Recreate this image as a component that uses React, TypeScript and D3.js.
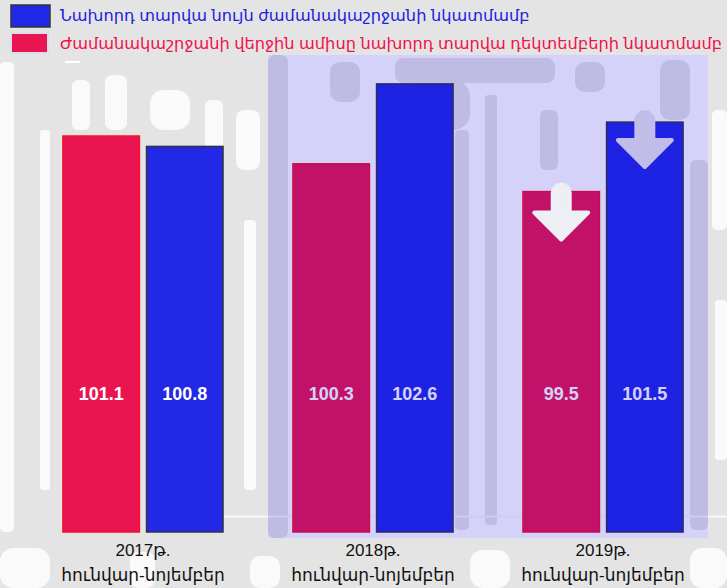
import React from 'react';
import * as d3 from 'd3';

const periods = ['2017թ.', '2018թ.', '2019թ.'];
const periodSub = ['հունվար-նոյեմբեր', 'հունվար-նոյեմբեր', 'հունվար-նոյեմբեր'];
const seriesNames = [
  'Ժամանակաշրջանի վերջին ամիսը նախորդ տարվա դեկտեմբերի նկատմամբ',
  'Նախորդ տարվա նույն ժամանակաշրջանի նկատմամբ',
];
const decValues = [101.1, 100.3, 99.5];
const yoyValues = [100.8, 102.6, 101.5];
// bars that get a "down" arrow (2019 both series)
const downArrows = [false, false, true];

const W = 727;
const H = 588;
const FONT = '"Liberation Sans", Arial, "DejaVu Sans", sans-serif';

const RED = '#ea1450';
const BLUE = '#2229e6';
const GRAY = '#e4e4e4';

// rough strokes for the faded background texture (white on gray outside the highlight)
const outerStrokes: [number, number, number, number][] = [
  [0, 62, 14, 470], [40, 130, 10, 360], [72, 80, 18, 50], [105, 75, 22, 55],
  [150, 90, 40, 40], [205, 100, 18, 80], [236, 110, 24, 60], [244, 220, 12, 270],
  [712, 110, 15, 120], [715, 300, 12, 160], [0, 548, 50, 40], [130, 552, 25, 36],
  [250, 556, 30, 32], [470, 550, 40, 38], [690, 548, 37, 40],
];
// gray strokes on white inside the highlighted area
const innerStrokes: [number, number, number, number][] = [
  [268, 55, 20, 483], [330, 62, 30, 40], [395, 58, 160, 25], [410, 80, 60, 50],
  [455, 130, 14, 400], [485, 95, 12, 430], [540, 110, 18, 60], [575, 62, 30, 30],
  [660, 60, 30, 60], [690, 160, 18, 370], [612, 410, 14, 120],
];

export default function App() {
  const x0 = d3.scaleBand<string>().domain(periods).range([-7, 753]).padding(0.304);
  const x1 = d3.scaleBand<number>().domain([0, 1]).range([0, x0.bandwidth()]).paddingInner(0.085);
  const y = d3.scaleLinear().domain([89.7, 103]).range([532, 70]);

  const bars = periods.flatMap((p, i) => [
    { p, i, s: 0, v: decValues[i] },
    { p, i, s: 1, v: yoyValues[i] },
  ]);

  const arrow = (cx: number, top: number, fill: string, key: string) => {
    const sw = 17, hw = 54, sh = 28, hh = 27;
    const path = d3.path();
    path.moveTo(cx - sw / 2, top + sw / 2);
    path.arc(cx, top + sw / 2, sw / 2, Math.PI, 0);
    path.lineTo(cx + sw / 2, top + sh);
    path.lineTo(cx + hw / 2, top + sh);
    path.lineTo(cx, top + sh + hh);
    path.lineTo(cx - hw / 2, top + sh);
    path.lineTo(cx - sw / 2, top + sh);
    path.closePath();
    return <path key={key} d={path.toString()} fill={fill} stroke={fill} strokeWidth={4} strokeLinejoin="round" />;
  };

  return (
    <svg width={W} height={H} style={{ position: 'absolute', left: 0, top: 0 }} fontFamily={FONT}>
      <rect x={0} y={0} width={W} height={H} fill={GRAY} />
      {outerStrokes.map(([tx, ty, tw, th], k) => (
        <rect key={`o${k}`} x={tx} y={ty} width={tw} height={th} rx={Math.min(tw, th) / 3} fill="#fafafa" />
      ))}
      <rect x={268} y={55} width={440} height={483} fill="#ffffff" />
      {innerStrokes.map(([tx, ty, tw, th], k) => (
        <rect key={`i${k}`} x={tx} y={ty} width={tw} height={th} rx={Math.min(tw, th) / 3} fill={GRAY} />
      ))}

      {/* faint white gridline */}
      <line x1={223} x2={W} y1={516.5} y2={516.5} stroke="#f8f8f8" strokeWidth={2} />
      <line x1={65} x2={80} y1={62} y2={62} stroke="#fff" strokeWidth={2} />

      {bars.map((b) => {
        const bx = (x0(b.p) ?? 0) + (x1(b.s) ?? 0);
        return (
          <rect
            key={`${b.p}-${b.s}`}
            x={bx}
            y={y(b.v)}
            width={x1.bandwidth()}
            height={532 - y(b.v)}
            fill={b.s === 0 ? RED : BLUE}
            stroke={b.s === 0 ? '#f5102a' : '#333344'}
            strokeWidth={1.5}
          />
        );
      })}

      {bars.map((b) => {
        const bx = (x0(b.p) ?? 0) + (x1(b.s) ?? 0) + x1.bandwidth() / 2;
        return (
          <text key={`l-${b.p}-${b.s}`} x={bx} y={400} textAnchor="middle" fill="#fff" fontSize={18} fontWeight="bold">
            {b.v.toFixed(1)}
          </text>
        );
      })}

      {/* highlighted 2018-2019 area */}
      <rect x={268} y={55} width={440} height={483} fill="#1208d8" opacity={0.18} />

      {bars.filter((b) => downArrows[b.i]).map((b) => {
        const cx = (x0(b.p) ?? 0) + (x1(b.s) ?? 0) + x1.bandwidth() / 2;
        const top = y(b.v) - (b.s === 0 ? 7 : 10);
        return arrow(cx, top, b.s === 0 ? '#eeeef5' : '#c0bde9', `a-${b.p}-${b.s}`);
      })}

      {periods.map((p, i) => {
        const cx = (x0(p) ?? 0) + x0.bandwidth() / 2;
        return (
          <text key={`c-${p}`} x={cx} textAnchor="middle" fill="#111" fontSize={17}>
            <tspan x={cx} y={556}>{p}</tspan>
            <tspan x={cx} y={581}>{periodSub[i]}</tspan>
          </text>
        );
      })}

      {/* legend */}
      <rect x={11} y={5} width={39} height={22} fill={BLUE} stroke="#333" strokeWidth={1.5} />
      <text x={60} y={21} fill="#2020e0" fontSize={16.2}>{seriesNames[1]}</text>
      <rect x={11} y={33} width={37} height={20} fill={RED} stroke="#dcdcf0" strokeWidth={2} />
      <text x={60} y={49} fill="#f0104a" fontSize={16.2}>{seriesNames[0]}</text>
    </svg>
  );
}
